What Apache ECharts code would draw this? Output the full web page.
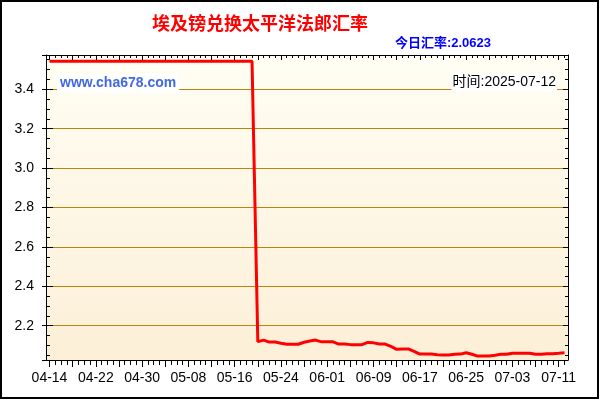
<!DOCTYPE html>
<html>
<head>
<meta charset="utf-8">
<script src="https://cdn.jsdelivr.net/npm/echarts@6/dist/echarts.min.js"></script>
<style>html,body{margin:0;padding:0;background:#fff;}#c{width:600px;height:400px;}</style>
</head>
<body>
<div id="c"></div>
<script>
const dates = [
 '04-14','04-15','04-16','04-17','04-18','04-19','04-20','04-21','04-22','04-23',
 '04-24','04-25','04-26','04-27','04-28','04-29','04-30','05-01','05-02','05-03',
 '05-04','05-05','05-06','05-07','05-08','05-09','05-10','05-11','05-12','05-13',
 '05-14','05-15','05-16','05-17','05-18','05-19','05-20','05-21','05-22','05-23',
 '05-24','05-25','05-26','05-27','05-28','05-29','05-30','05-31','06-01','06-02',
 '06-03','06-04','06-05','06-06','06-07','06-08','06-09','06-10','06-11','06-12',
 '06-13','06-14','06-15','06-16','06-17','06-18','06-19','06-20','06-21','06-22',
 '06-23','06-24','06-25','06-26','06-27','06-28','06-29','06-30','07-01','07-02',
 '07-03','07-04','07-05','07-06','07-07','07-08','07-09','07-10','07-11','07-12'
];
const rates = [
 3.542,3.542,3.542,3.542,3.542,3.542,3.542,3.542,3.542,3.542,
 3.542,3.542,3.542,3.542,3.542,3.542,3.542,3.542,3.542,3.542,
 3.542,3.542,3.542,3.542,3.542,3.542,3.542,3.542,3.542,3.542,
 3.542,3.542,3.542,3.542,3.542,3.542,2.119,2.127,2.117,2.117,
 2.111,2.106,2.106,2.106,2.116,2.122,2.127,2.118,2.118,2.118,
 2.107,2.107,2.104,2.104,2.104,2.115,2.113,2.107,2.107,2.095,
 2.080,2.082,2.082,2.070,2.056,2.056,2.056,2.053,2.051,2.051,
 2.055,2.056,2.063,2.055,2.046,2.046,2.046,2.050,2.055,2.055,
 2.060,2.060,2.060,2.060,2.055,2.055,2.058,2.058,2.060,2.0623
];
const chartTitle = '埃及镑兑换太平洋法郎汇率';
const todayLabel = '今日汇率:';
const siteText = 'www.cha678.com';
const timeText = '时间:2025-07-12';

const Y_MIN = 2.026, Y_MAX = 3.574;
const FONT = "'Liberation Sans', Arial, 'Noto Sans CJK SC', sans-serif";
const CJK = "'Noto Sans CJK SC', 'Liberation Sans', sans-serif";
const BLACK = '#000';

function frameX(pos) {
  return {gridIndex:0, type:'value', min:0, max:1, position:pos,
    axisLine:{show:true, onZero:false, lineStyle:{color:BLACK, width:1}},
    axisTick:{show:false}, axisLabel:{show:false}, splitLine:{show:false}};
}
function tickX(pos, interval, inside, length, labels) {
  return {gridIndex:1, type:'category', data:dates, boundaryGap:false, position:pos,
    axisLine:{show:false, onZero:false},
    axisTick:{show:true, interval:interval, inside:inside, length:length, lineStyle:{color:BLACK, width:1}},
    axisLabel: labels ? {show:true, interval:7, margin:11, color:BLACK, fontSize:14, fontFamily:FONT} : {show:false},
    splitLine:{show:false}};
}
function tickY(pos, splitNumber, inside, length, showLine) {
  return {gridIndex:0, type:'value', min:Y_MIN, max:Y_MAX, splitNumber:splitNumber, position:pos,
    axisLine:{show:showLine, onZero:false, lineStyle:{color:BLACK, width:1}},
    axisTick:{show:true, inside:inside, length:length, lineStyle:{color:BLACK, width:1}},
    axisLabel:{show:false}, splitLine:{show:false}};
}

const chart = echarts.init(document.getElementById('c'), null, {renderer:'canvas'});
chart.setOption({
  animation:false,
  backgroundColor:'#fff',
  grid:[
    {left:46, right:32, top:55, bottom:40, show:true, borderWidth:0,
     backgroundColor:new echarts.graphic.LinearGradient(0,0,0,1,[
       {offset:0, color:'#FFFEF4'}, {offset:1, color:'#FCEFD7'}])},
    {left:49.5, right:35.5, top:55, bottom:40}
  ],
  xAxis:[
    frameX('bottom'),
    frameX('top'),
    tickX('bottom', 0, false, 5, true),
    tickX('bottom', 3, false, 7, false),
    tickX('top', 0, true, 3, false),
    tickX('top', 3, true, 5, false)
  ],
  yAxis:[
    {gridIndex:0, type:'value', min:Y_MIN, max:Y_MAX, splitNumber:7, position:'left',
     axisLine:{show:true, onZero:false, lineStyle:{color:BLACK, width:1}},
     axisTick:{show:true, length:4, lineStyle:{color:BLACK, width:1}},
     axisLabel:{show:true, margin:12, color:BLACK, fontSize:14, fontFamily:FONT,
       formatter:function(v){ return Math.abs(v*5 - Math.round(v*5)) < 1e-6 ? v.toFixed(1) : ''; }},
     splitLine:{show:true, lineStyle:{color:'#B8860B', width:1}}},
    tickY('left', 7, true, 7, false),
    tickY('left', 31, true, 4, false),
    tickY('right', 7, true, 5, true),
    tickY('right', 31, true, 3, false),
    {gridIndex:1, type:'value', min:Y_MIN, max:Y_MAX, show:false}
  ],
  series:[{
    type:'line', xAxisIndex:2, yAxisIndex:5, data:rates,
    showSymbol:false, symbol:'none', z:5,
    lineStyle:{color:'#FF0000', width:3},
    itemStyle:{color:'#FF0000'}
  }],
  graphic:[
    {type:'rect', silent:true, z:100, shape:{x:1, y:1, width:597, height:397},
     style:{fill:'none', stroke:BLACK, lineWidth:2}},
    {type:'text', x:152, y:23, z:100, style:{text:chartTitle, fill:'#FF0000',
      font:"bold 18px " + CJK, verticalAlign:'middle'}},
    {type:'text', x:491, y:43, z:100, style:{text:todayLabel + rates[rates.length-1].toFixed(4),
      fill:'#0000FF', font:"bold 13px " + FONT, align:'right', verticalAlign:'middle'}},
    {type:'text', x:57, y:83, z:100, style:{text:siteText, fill:'#4169E1',
      font:"bold 14px " + FONT, backgroundColor:'#fff', padding:[3,3,3,3], verticalAlign:'middle'}},
    {type:'text', x:557, y:82, z:100, style:{text:timeText, fill:'#000',
      font:"14px " + FONT, backgroundColor:'#fff', padding:[2,1,2,1], align:'right', verticalAlign:'middle'}}
  ]
});
</script>
</body>
</html>
